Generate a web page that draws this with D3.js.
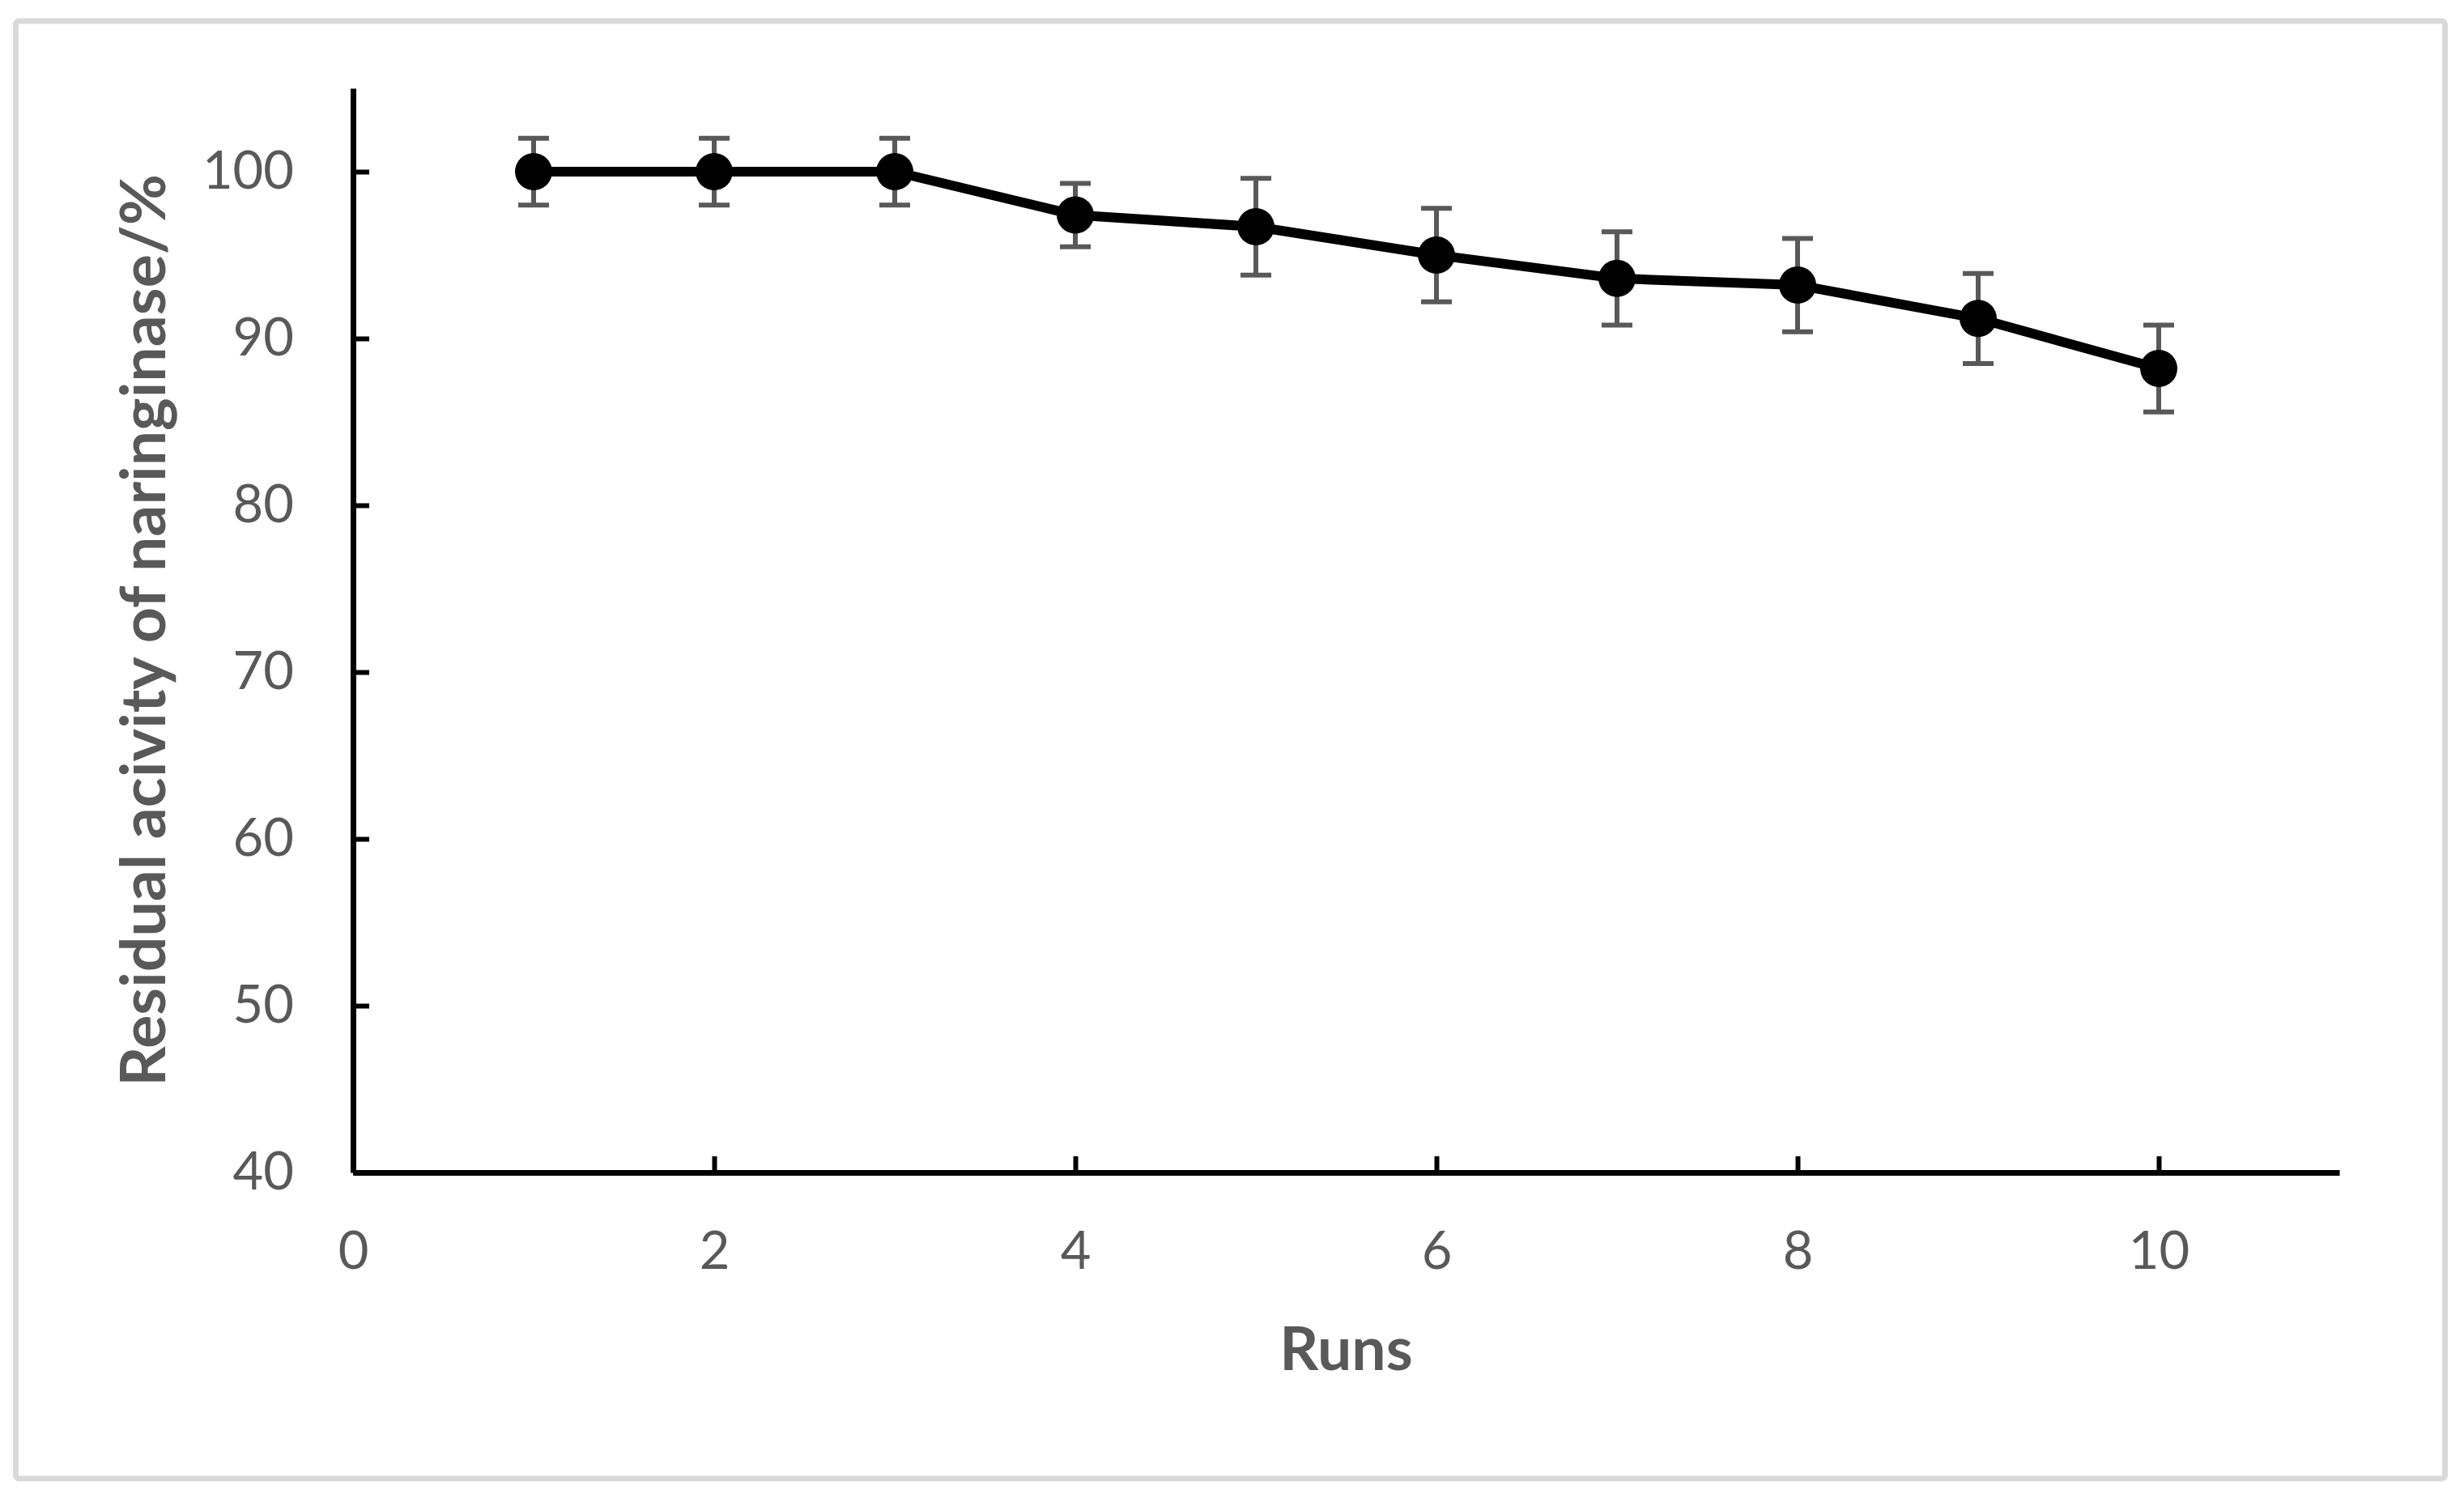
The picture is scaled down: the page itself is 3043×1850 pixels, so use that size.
<!DOCTYPE html>
<html>
<head>
<meta charset="utf-8">
<script src="https://cdn.jsdelivr.net/npm/d3@7"></script>
<style>
  body { margin: 0; background: #fff; }
  .axis text { font-family: Lato, "Open Sans", sans-serif; fill: #595959; }
</style>
</head>
<body>
<div id="chart"></div>
<script>
// data
var runs = [1, 2, 3, 4, 5, 6, 7, 8, 9, 10];
var activity = [100, 100, 100, 97.4, 96.7, 95.0, 93.6, 93.2, 91.2, 88.2];
var errors = [2.0, 2.0, 2.0, 1.9, 2.9, 2.8, 2.8, 2.8, 2.7, 2.6];
var xTicks = [0, 2, 4, 6, 8, 10];
var yTicks = [40, 50, 60, 70, 80, 90, 100];

var W = 3043, H = 1850;
var margin = {top: 109, right: 154, bottom: 402, left: 436},
    width = W - margin.left - margin.right,
    height = H - margin.top - margin.bottom;

var data = runs.map(function(r, i) {
  return {run: r, val: activity[i], err: errors[i]};
});

var x = d3.scaleLinear().domain([0, 11]).range([0, width]);
var y = d3.scaleLinear().domain([40, 105]).range([height, 0]);

var root = d3.select("#chart").append("svg")
    .attr("width", W)
    .attr("height", H);

// outer frame
root.append("rect")
    .attr("x", 19.5).attr("y", 26)
    .attr("width", 3000).attr("height", 1800)
    .attr("rx", 4)
    .style("fill", "none")
    .style("stroke", "#d9d9d9")
    .style("stroke-width", 7);

var svg = root.append("g")
    .attr("transform", "translate(" + margin.left + "," + margin.top + ")");

// axes
var xAxis = svg.append("g")
    .attr("class", "axis")
    .attr("transform", "translate(0," + height + ")")
    .call(d3.axisBottom(x).tickValues(xTicks).tickSizeInner(-20).tickSizeOuter(0).tickPadding(73));

var yAxis = svg.append("g")
    .attr("class", "axis")
    .call(d3.axisLeft(y).tickValues(yTicks).tickSizeInner(-20).tickSizeOuter(0).tickPadding(73));

[xAxis, yAxis].forEach(function(a) {
  a.select(".domain").style("stroke", "#000").style("stroke-width", 7);
  a.selectAll(".tick line").style("stroke", "#000").style("stroke-width", 6);
  a.selectAll(".tick text").style("font-size", "65px");
});

// error bars
var eb = svg.selectAll(".err")
    .data(data)
  .enter().append("g")
    .attr("class", "err")
    .style("stroke", "#595959")
    .style("stroke-width", 6);

eb.append("line")
    .attr("x1", function(d) { return x(d.run); })
    .attr("x2", function(d) { return x(d.run); })
    .attr("y1", function(d) { return y(d.val + d.err); })
    .attr("y2", function(d) { return y(d.val - d.err); });

eb.append("line")
    .attr("x1", function(d) { return x(d.run) - 19; })
    .attr("x2", function(d) { return x(d.run) + 19; })
    .attr("y1", function(d) { return y(d.val + d.err); })
    .attr("y2", function(d) { return y(d.val + d.err); });

eb.append("line")
    .attr("x1", function(d) { return x(d.run) - 19; })
    .attr("x2", function(d) { return x(d.run) + 19; })
    .attr("y1", function(d) { return y(d.val - d.err); })
    .attr("y2", function(d) { return y(d.val - d.err); });

// line
var line = d3.line()
    .x(function(d) { return x(d.run); })
    .y(function(d) { return y(d.val); });

svg.append("path")
    .datum(data)
    .attr("d", line)
    .style("fill", "none")
    .style("stroke", "#000")
    .style("stroke-width", 12)
    .style("stroke-linejoin", "round");

// markers
svg.selectAll(".dot")
    .data(data)
  .enter().append("circle")
    .attr("class", "dot")
    .attr("cx", function(d) { return x(d.run); })
    .attr("cy", function(d) { return y(d.val); })
    .attr("r", 23)
    .style("fill", "#000");

// axis titles
root.append("text")
    .attr("x", margin.left + width / 2)
    .attr("y", 1692)
    .attr("text-anchor", "middle")
    .style("font-family", "Lato, 'Open Sans', sans-serif")
    .style("font-weight", "bold")
    .style("font-size", "75px")
    .style("fill", "#595959")
    .text("Runs");

root.append("text")
    .attr("transform", "translate(204," + (margin.top + height / 2) + ") rotate(-90)")
    .attr("text-anchor", "middle")
    .style("font-family", "Lato, 'Open Sans', sans-serif")
    .style("font-weight", "bold")
    .style("font-size", "77px")
    .style("fill", "#595959")
    .text("Residual acivity of naringinase/%");
</script>
</body>
</html>
